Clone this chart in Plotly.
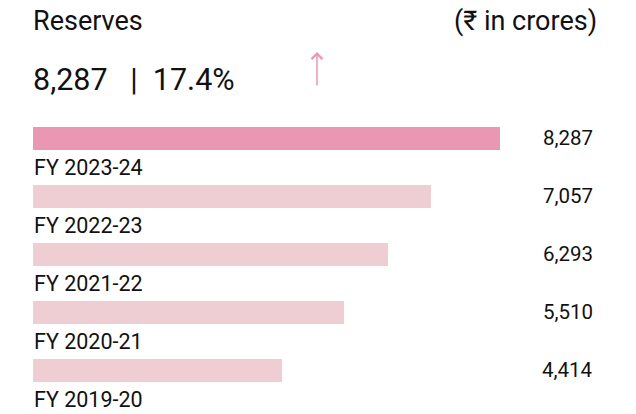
import plotly.graph_objects as go

years = ["FY 2023-24", "FY 2022-23", "FY 2021-22", "FY 2020-21", "FY 2019-20"]
values = [8287, 7057, 6293, 5510, 4414]
value_labels = ["8,287", "7,057", "6,293", "5,510", "4,414"]
title_text = "Reserves"
unit_text = "(₹ in crores)"
headline_text = "8,287&nbsp;&nbsp;&nbsp;|&nbsp;&nbsp;17.4%"

W, H = 636, 414
L = 33
bar_colors = ["#E997B3"] + ["#EFCED3"] * (len(values) - 1)
ink = "#111111"
font_family = "Roboto, Arial, sans-serif"

idx = list(range(len(values)))

fig = go.Figure()
fig.add_trace(go.Bar(
    x=values, y=idx, orientation="h",
    marker=dict(color=bar_colors, line=dict(width=0)),
    width=0.39, hoverinfo="skip", showlegend=False,
))

step = 58.0
top = -138.3 / step
bottom = top + H / step

annotations = []
for i, (yr, vl) in enumerate(zip(years, value_labels)):
    annotations.append(dict(
        x=0, y=i + 29.0 / step, xref="x", yref="y", text=yr,
        showarrow=False, xanchor="left", yanchor="middle", xshift=-1,
        font=dict(family=font_family, size=21.5, color=ink),
    ))
    annotations.append(dict(
        x=(595 - L) / (W - L), y=i, xref="paper", yref="y", text=vl,
        showarrow=False, xanchor="right", yanchor="middle",
        font=dict(family=font_family, size=20.5, color=ink),
    ))

def py(px):
    return 1 - px / H

def pxx(px):
    return (px - L) / (W - L)

annotations += [
    dict(x=pxx(31), y=py(20.5), xref="paper", yref="paper", text=title_text,
         showarrow=False, xanchor="left", yanchor="middle",
         font=dict(family=font_family, size=27, color=ink)),
    dict(x=pxx(599), y=py(20.5), xref="paper", yref="paper", text=unit_text,
         showarrow=False, xanchor="right", yanchor="middle",
         font=dict(family=font_family, size=27, color=ink)),
    dict(x=pxx(31), y=py(80), xref="paper", yref="paper", text=headline_text,
         showarrow=False, xanchor="left", yanchor="middle",
         font=dict(family=font_family, size=30.5, color=ink)),
    dict(x=pxx(317), y=py(52), xref="paper", yref="paper", text="",
         showarrow=True, ax=0, ay=35, arrowhead=4, arrowsize=1.4,
         arrowwidth=1.5, arrowcolor="#E997B3", standoff=0, startstandoff=0),
]

x_max = (W - L) * 8287 / (500 - L)

fig.update_layout(
    width=W, height=H,
    margin=dict(l=L, r=0, t=0, b=0),
    paper_bgcolor="white", plot_bgcolor="white",
    xaxis=dict(range=[0, x_max], visible=False, fixedrange=True),
    yaxis=dict(range=[bottom, top], visible=False, fixedrange=True),
    annotations=annotations,
    bargap=0,
)

fig.write_html("out.html", config={"displayModeBar": False},
               post_script="document.body.style.margin='0';")
